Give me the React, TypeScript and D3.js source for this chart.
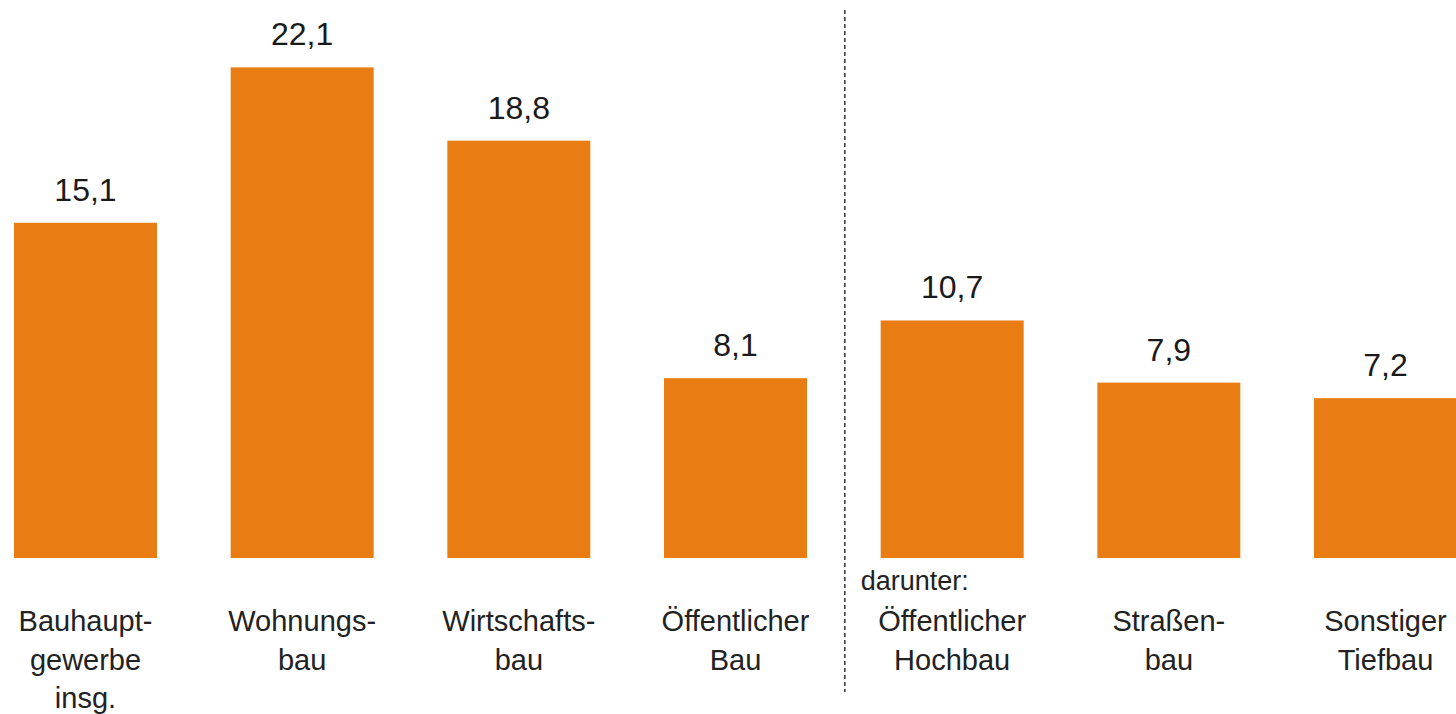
import * as d3 from "d3";

const categories = [
  "Bauhauptgewerbe insg.",
  "Wohnungsbau",
  "Wirtschaftsbau",
  "Öffentlicher Bau",
  "Öffentlicher Hochbau",
  "Straßenbau",
  "Sonstiger Tiefbau",
];
const values = [15.1, 22.1, 18.8, 8.1, 10.7, 7.9, 7.2];
const labelLines = [
  ["Bauhaupt-", "gewerbe", "insg."],
  ["Wohnungs-", "bau"],
  ["Wirtschafts-", "bau"],
  ["Öffentlicher", "Bau"],
  ["Öffentlicher", "Hochbau"],
  ["Straßen-", "bau"],
  ["Sonstiger", "Tiefbau"],
];
const prefixLabel = "darunter:";
const splitAfter = "Öffentlicher Bau";

const W = 1456;
const H = 714;
const baseY = 558;
const font = "'Liberation Sans', Arial, sans-serif";

export default function App() {
  const x = d3.scaleBand().domain(categories).range([14, 1457]).paddingInner(0.34).paddingOuter(0);
  const y = d3.scaleLinear().domain([0, 25]).range([baseY, baseY - 25 * 22.2]);
  const fmt = (v: number) => d3.format(".1f")(v).replace(".", ",");

  const splitIdx = categories.indexOf(splitAfter);
  const sepX = (x(categories[splitIdx])! + x.bandwidth() + x(categories[splitIdx + 1])!) / 2 + 1;

  return (
    <svg
      width={W}
      height={H}
      style={{ position: "absolute", left: 0, top: 0, background: "#fff" }}
      fontFamily={font}
    >
      {categories.map((c, i) => {
        const bx = x(c)!;
        const cx = bx + x.bandwidth() / 2;
        return (
          <g key={c}>
            <rect x={bx} y={y(values[i])} width={x.bandwidth()} height={baseY - y(values[i])} fill="#E97D13" />
            <text x={cx} y={y(values[i]) - 22} textAnchor="middle" fontSize={32} fill="#1a1a1a">
              {fmt(values[i])}
            </text>
            {labelLines[i].map((ln, j) => (
              <text key={j} x={cx} y={631 + j * 38.5} textAnchor="middle" fontSize={29} fill="#222">
                {ln}
              </text>
            ))}
          </g>
        );
      })}
      <text x={x(categories[splitIdx + 1])! - 20} y={590} fontSize={27} fill="#222">
        {prefixLabel}
      </text>
      <line x1={sepX} x2={sepX} y1={10} y2={692} stroke="#333" strokeWidth={1.5} strokeDasharray="4,3" />
    </svg>
  );
}
